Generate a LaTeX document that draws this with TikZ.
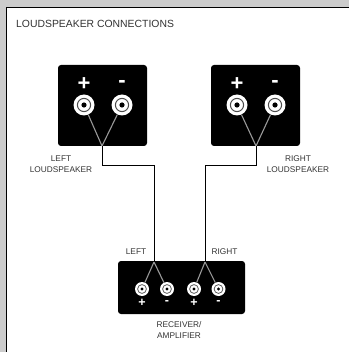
\documentclass[tikz,border=0pt]{standalone}
\usepackage{fontspec}
\setmainfont{Liberation Sans}
\usepackage{xcolor}
\usetikzlibrary{positioning}
\definecolor{framegray}{HTML}{CCCCCC}
\definecolor{labelgray}{HTML}{333333}

\begin{document}
\begin{tikzpicture}[
    x=1pt, y=-1pt,
    panel/.style={rectangle, fill=black, rounded corners=3pt, inner sep=0pt},
    bigpost/.style={circle, fill=white, minimum size=21pt, inner sep=0pt, path picture={\draw [black!70, line width=1pt] (path picture bounding box.center) circle (6.6pt); \fill [black] (path picture bounding box.center) circle (2.6pt);}},
    smallpost/.style={circle, fill=white, minimum size=14pt, inner sep=0pt, path picture={\draw [black!70, line width=0.7pt] (path picture bounding box.center) circle (4.4pt); \fill [black] (path picture bounding box.center) circle (1.7pt);}},
    bigsign/.style={font=\fontsize{22}{22}\selectfont\bfseries, text=white, inner sep=0pt},
    smallsign/.style={font=\fontsize{12.5}{12.5}\selectfont\bfseries, text=white, inner sep=0pt},
    caption/.style={font=\fontsize{8.3}{10.5}\selectfont, text=labelgray, align=center, inner sep=0pt},
    wire/.style={draw=black, line width=1pt},
    splitwire/.style={draw=black!40, line width=1.1pt}
]
    \useasboundingbox (0, 0) rectangle (349, 352);
    \fill [framegray] (0, 0) rectangle (349, 352);
    \fill [white] (6.5, 7.5) rectangle (349, 352);
    \draw [line width=0.9pt] (6.5, 352) -- (6.5, 7.5) -- (349, 7.5);

    \node [anchor=west, inner sep=0pt, font=\fontsize{10.4}{12}\selectfont, text=labelgray] (title) at (16, 24) {LOUDSPEAKER CONNECTIONS};

    \node [panel, minimum width=89pt, minimum height=81pt] (lspk) at (102.5, 105.5) {};
    \node [panel, minimum width=89pt, minimum height=81pt] (rspk) at (255.5, 105.5) {};
    \node [panel, minimum width=127pt, minimum height=53pt] (recv) at (181.5, 287.5) {};

    \node [bigpost] (lplus) at (84, 105) {};
    \node [bigpost] (lminus) at (122, 105) {};
    \node [bigpost] (rplus) at (237, 105) {};
    \node [bigpost] (rminus) at (275, 105) {};
    \node [smallpost] (alplus) at (142, 289) {};
    \node [smallpost] (alminus) at (167, 289) {};
    \node [smallpost] (arplus) at (194, 289) {};
    \node [smallpost] (arminus) at (218.5, 289) {};

    \node [bigsign] (lplussign) at (84, 84) {+};
    \node [bigsign] (lminussign) at (122, 84) {-};
    \node [bigsign] (rplussign) at (237, 84) {+};
    \node [bigsign] (rminussign) at (275, 84) {-};
    \node [smallsign] (alplussign) at (142, 303) {+};
    \node [smallsign] (alminussign) at (167, 303) {-};
    \node [smallsign] (arplussign) at (194, 303) {+};
    \node [smallsign] (arminussign) at (218.5, 303) {-};

    \node [caption] (lcap) at (61, 164) {LEFT\\LOUDSPEAKER};
    \node [caption] (rcap) at (298, 164) {RIGHT\\LOUDSPEAKER};
    \node [caption] (lout) at (136, 251.5) {LEFT};
    \node [caption] (rout) at (224.5, 251.5) {RIGHT};
    \node [caption] (recvcap) at (179, 330) {RECEIVER/\\AMPLIFIER};

    \coordinate (ljoin) at (102, 146);
    \coordinate (rjoin) at (256, 146);
    \coordinate (aljoin) at (154, 262);
    \coordinate (arjoin) at (205, 262);

    \draw [splitwire] (lplus) -- (ljoin);
    \draw [splitwire] (lminus) -- (ljoin);
    \draw [splitwire] (rplus) -- (rjoin);
    \draw [splitwire] (rminus) -- (rjoin);
    \draw [splitwire] (alplus) -- (aljoin);
    \draw [splitwire] (alminus) -- (aljoin);
    \draw [splitwire] (arplus) -- (arjoin);
    \draw [splitwire] (arminus) -- (arjoin);
    \draw [wire] (ljoin) |- (154, 166) -- (aljoin);
    \draw [wire] (rjoin) |- (205, 165.5) -- (arjoin);
\end{tikzpicture}
\end{document}
